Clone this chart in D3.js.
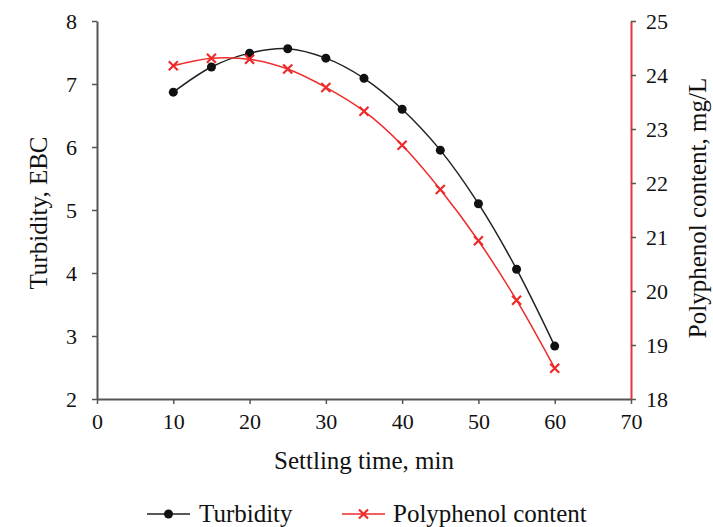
<!DOCTYPE html>
<html>
<head>
<meta charset="utf-8">
<script src="https://cdn.jsdelivr.net/npm/d3@7"></script>
<style>
  body { margin: 0; background: #fff; }
</style>
</head>
<body>
<div id="chart"></div>
<script>
const settlingTime = [10, 15, 20, 25, 30, 35, 40, 45, 50, 55, 60];
const turbidity = [6.87, 7.27, 7.49, 7.56, 7.41, 7.09, 6.60, 5.95, 5.10, 4.06, 2.84];
const polyphenol = [24.17, 24.31, 24.29, 24.11, 23.77, 23.33, 22.70, 21.88, 20.93, 19.83, 18.57];
const xTicks = [0, 10, 20, 30, 40, 50, 60, 70];
const leftTicks = [2, 3, 4, 5, 6, 7, 8];
const rightTicks = [18, 19, 20, 21, 22, 23, 24, 25];

const width = 713, height = 527;
const plot = {left: 97, right: 631, top: 21, bottom: 399};
const serif = "'Times New Roman', Times, 'Liberation Serif', 'Noto Serif', 'DejaVu Serif', serif";
const tickSize = "22px";
const titleSize = "25px";

const svg = d3.select("#chart").append("svg")
    .attr("width", width)
    .attr("height", height)
    .style("font-family", serif);

const x = d3.scaleLinear().domain([0, 70]).range([plot.left, plot.right]);
const yL = d3.scaleLinear().domain([2, 8]).range([plot.bottom, plot.top]);
const yR = d3.scaleLinear().domain([18, 25]).range([plot.bottom, plot.top]);

function styleAxis(g, lineColor) {
    g.attr("font-family", null).attr("font-size", tickSize);
    g.select(".domain").attr("stroke", lineColor).attr("stroke-width", 2);
    g.selectAll(".tick line").attr("stroke", "#555").attr("stroke-width", 1.5);
    g.selectAll(".tick text").attr("fill", "#111");
}

// x axis
svg.append("g")
    .attr("transform", `translate(0,${plot.bottom})`)
    .call(d3.axisBottom(x).tickValues(xTicks).tickFormat(d3.format("d"))
        .tickSize(5).tickSizeOuter(0).tickPadding(9))
    .call(g => styleAxis(g, "#555"));

// left axis
svg.append("g")
    .attr("transform", `translate(${plot.left},0)`)
    .call(d3.axisLeft(yL).tickValues(leftTicks).tickFormat(d3.format("d"))
        .tickSize(5).tickSizeOuter(0).tickPadding(15))
    .call(g => styleAxis(g, "#555"));

// right axis
svg.append("g")
    .attr("transform", `translate(${plot.right},0)`)
    .call(d3.axisRight(yR).tickValues(rightTicks).tickFormat(d3.format("d"))
        .tickSize(5).tickSizeOuter(0).tickPadding(10))
    .call(g => styleAxis(g, "#e8343a"));

// axis titles
svg.append("text")
    .attr("x", 364)
    .attr("y", 469)
    .attr("text-anchor", "middle")
    .attr("font-size", titleSize)
    .attr("fill", "#111")
    .text("Settling time, min");

svg.append("text")
    .attr("transform", `translate(47,213) rotate(-90)`)
    .attr("text-anchor", "middle")
    .attr("font-size", titleSize)
    .attr("fill", "#111")
    .text("Turbidity, EBC");

svg.append("text")
    .attr("transform", `translate(706,208) rotate(-90)`)
    .attr("text-anchor", "middle")
    .attr("font-size", titleSize)
    .attr("fill", "#111")
    .text("Polyphenol content, mg/L");

const curve = d3.curveCatmullRom.alpha(0.5);

const turbLine = d3.line()
    .x((d, i) => x(settlingTime[i]))
    .y(d => yL(d))
    .curve(curve);

const polyLine = d3.line()
    .x((d, i) => x(settlingTime[i]))
    .y(d => yR(d))
    .curve(curve);

svg.append("path")
    .attr("d", turbLine(turbidity))
    .attr("fill", "none")
    .attr("stroke", "#222")
    .attr("stroke-width", 1.5);

svg.append("path")
    .attr("d", polyLine(polyphenol))
    .attr("fill", "none")
    .attr("stroke", "#ee2a2a")
    .attr("stroke-width", 1.5);

svg.append("g")
    .selectAll("circle")
    .data(turbidity)
    .join("circle")
    .attr("cx", (d, i) => x(settlingTime[i]))
    .attr("cy", d => yL(d))
    .attr("r", 4.5)
    .attr("fill", "#111");

function cross(g, cx, cy, s, color) {
    g.append("path")
        .attr("d", `M${cx - s},${cy - s}L${cx + s},${cy + s}M${cx - s},${cy + s}L${cx + s},${cy - s}`)
        .attr("stroke", color)
        .attr("stroke-width", 2.2)
        .attr("fill", "none");
}

const crossG = svg.append("g");
polyphenol.forEach((d, i) => cross(crossG, x(settlingTime[i]), yR(d), 4.5, "#ee2a2a"));

// legend
const legY = 514;
svg.append("line").attr("x1", 147).attr("x2", 190).attr("y1", legY).attr("y2", legY)
    .attr("stroke", "#222").attr("stroke-width", 1.5);
svg.append("circle").attr("cx", 168.5).attr("cy", legY).attr("r", 4.5).attr("fill", "#111");
svg.append("text").attr("x", 199).attr("y", legY + 8).attr("font-size", titleSize)
    .attr("fill", "#111").text("Turbidity");

svg.append("line").attr("x1", 342).attr("x2", 385).attr("y1", legY).attr("y2", legY)
    .attr("stroke", "#ee2a2a").attr("stroke-width", 1.5);
cross(svg, 363.5, legY, 4.5, "#ee2a2a");
svg.append("text").attr("x", 393).attr("y", legY + 8).attr("font-size", titleSize)
    .attr("fill", "#111").text("Polyphenol content");
</script>
</body>
</html>
